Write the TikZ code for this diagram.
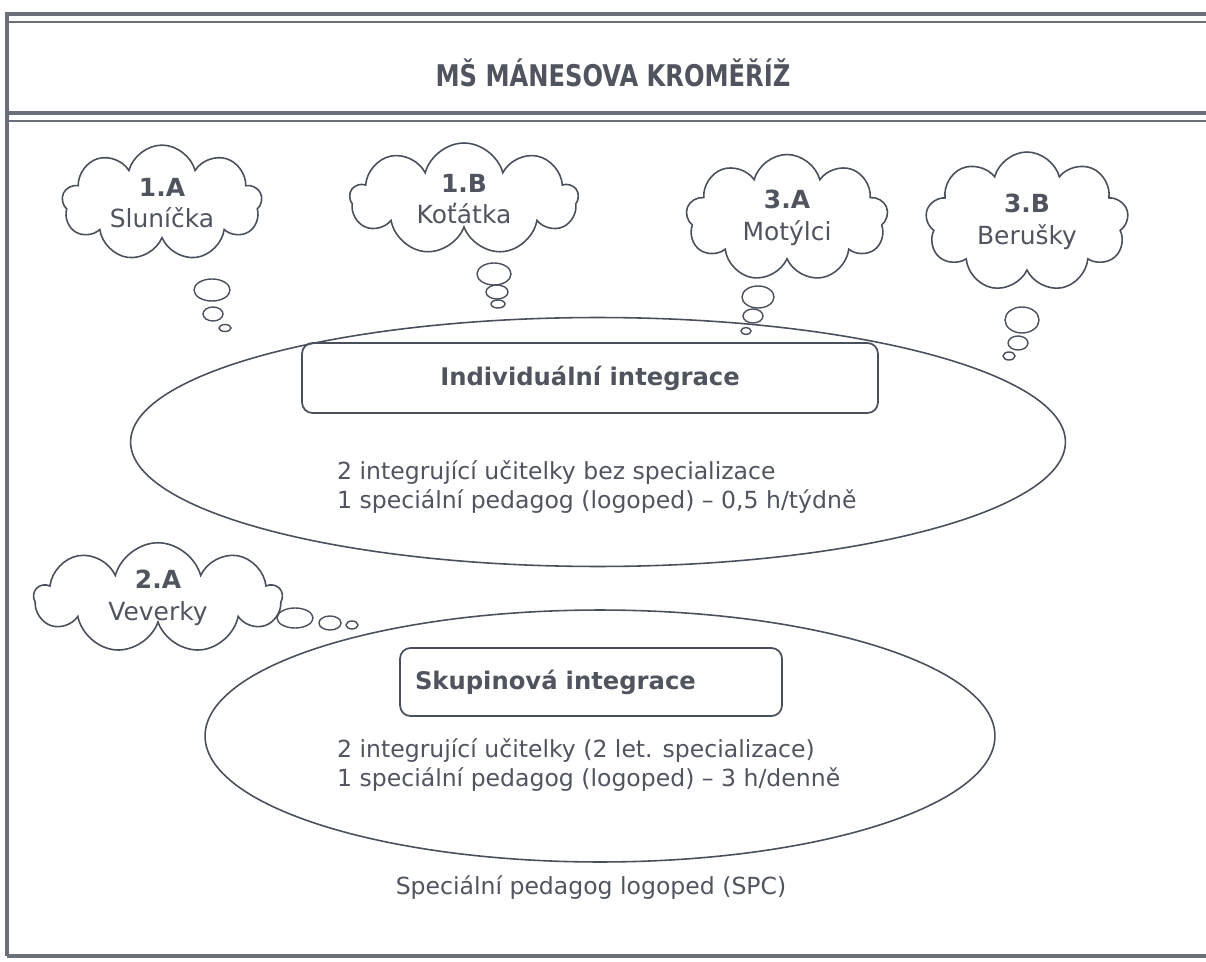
\documentclass[tikz,border=0pt]{standalone}
\usepackage{fontspec}
\usepackage{graphicx}
\setmainfont{DejaVu Sans}
\usetikzlibrary{shapes.geometric,shapes.symbols,positioning}
\definecolor{ink}{HTML}{4A4F5C}
\definecolor{framegray}{HTML}{6B6F7A}
\definecolor{txt}{HTML}{50545F}
\begin{document}
\begin{tikzpicture}[x=0.02cm,y=-0.02cm,
  wolk/.style={cloud,draw=ink,line width=0.9pt,cloud puffs=9,aspect=1.8,
    align=center,text=txt,font=\fontsize{14.2}{18}\selectfont,inner sep=0pt},
  oval/.style={ellipse,draw=ink,line width=0.9pt},
  tag/.style={draw=ink,line width=1pt,rounded corners=6pt,text=txt,
    font=\bfseries\fontsize{13.8}{16}\selectfont},
  body/.style={align=left,text=txt,font=\fontsize{13.4}{17}\selectfont},
  bubble/.style={draw=ink,line width=0.8pt}]
\useasboundingbox (0,0) rectangle (1206,962);
% frame
\draw[framegray,line width=2.8pt] (7,956) -- (7,14) -- (1206,14);
\draw[framegray,line width=0.8pt] (9,22) -- (1206,22);
\draw[framegray,line width=2.8pt] (7,113) -- (1206,113);
\draw[framegray,line width=0.8pt] (9,121) -- (1206,121);
\draw[framegray,line width=2.8pt] (7,956) -- (1206,956);
\node[text=txt,font=\bfseries\fontsize{17}{20}\selectfont] (titul) at (613,73) {\scalebox{0.81}[1]{MŠ MÁNESOVA KROMĚŘÍŽ}};

% ovals
\node[oval,minimum width=18.7cm,minimum height=4.98cm] (individ) at (598,442) {};
\node[oval,minimum width=15.8cm,minimum height=5.04cm] (skupin) at (600,736) {};
\node[tag,minimum width=11.52cm,minimum height=1.4cm] (individtag) at (590,378) {Individuální integrace};
\node[tag,text width=7.04cm,inner xsep=0.3cm,minimum height=1.36cm,align=left] (skupintag) at (591,682) {Skupinová integrace};
\node[body,anchor=west] (individtext) at (331,487) {2 integrující učitelky bez specializace\\1 speciální pedagog (logoped) – 0,5 h/týdně};
\node[body,anchor=west] (skupintext) at (331,765) {2 integrující učitelky (2 let. specializace)\\1 speciální pedagog (logoped) – 3 h/denně};
\node[body] (spc) at (591,888) {Speciální pedagog logoped (SPC)};

% clouds
\node[wolk,minimum width=4cm,minimum height=2.28cm] (sluni) at (162,203) {\textbf{1.A}\\Sluníčka};
\node[wolk,minimum width=4.56cm,minimum height=2.24cm] (kotat) at (464,199) {\textbf{1.B}\\Koťátka};
\node[wolk,minimum width=4.04cm,minimum height=2.54cm] (motyl) at (787,218) {\textbf{3.A}\\Motýlci};
\node[wolk,minimum width=4.06cm,minimum height=2.8cm] (berus) at (1027,222) {\textbf{3.B}\\Berušky};
\node[wolk,minimum width=4.94cm,minimum height=2cm] (veverk) at (158,598) {\textbf{2.A}\\Veverky};

% thought bubbles
\foreach \bx/\by/\rx/\ry in {212/290/18/11, 213/314/10/7, 225/328/6/3.5,
    494/274/17/11, 497/292/11/7, 498/304/7/4,
    758/297/16/11, 753/316/10/7, 746/331/5/3.5,
    1022/320/17/13, 1018/343/10/7, 1009/356/6/4,
    295/618/18/10, 330/623/11/7, 352/625/6/4}
  \draw[bubble] (\bx,\by) ellipse [x radius=\rx*0.02cm, y radius=\ry*0.02cm];
\end{tikzpicture}
\end{document}
